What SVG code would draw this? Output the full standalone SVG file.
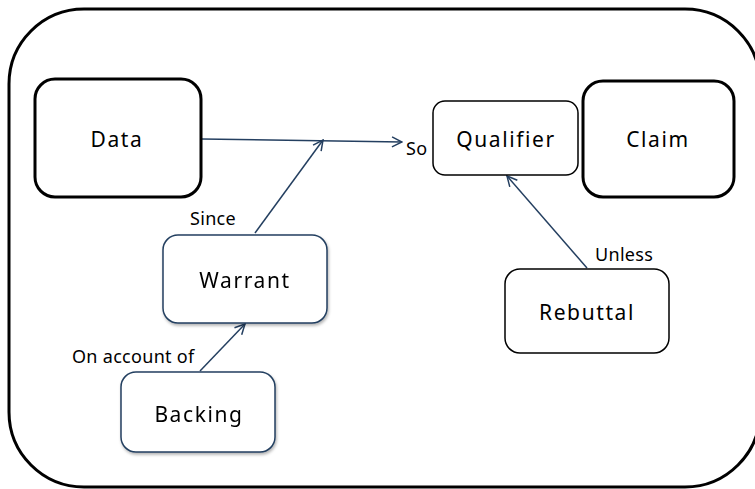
<svg xmlns="http://www.w3.org/2000/svg" width="755" height="489" viewBox="0 0 755 489">
<style>
.bold{fill:#fff;stroke:#000;stroke-width:3}
.thin{fill:#fff;stroke:#000;stroke-width:1.5}
.blue{fill:#fff;stroke:#243f60;stroke-width:1.5}
.t{font-family:"Noto Sans","Open Sans",sans-serif;font-size:21px;letter-spacing:1.6px;fill:#000;text-anchor:middle}
.l{font-family:"Noto Sans","Open Sans",sans-serif;font-size:18px;letter-spacing:0.3px;fill:#000}
.c{stroke:#243f60;stroke-width:1.5;fill:none;marker-end:url(#arr)}
</style>
<defs>
<marker id="arr" viewBox="0 0 12 12" refX="11" refY="6" markerWidth="12" markerHeight="12" markerUnits="userSpaceOnUse" orient="auto">
<path d="M1,1 L11,6 L1,11" fill="none" stroke="#243f60" stroke-width="1.5"/>
</marker>
<filter id="sh" x="-10%" y="-10%" width="130%" height="130%">
<feDropShadow dx="1" dy="2" stdDeviation="1.5" flood-color="#000" flood-opacity="0.3"/>
</filter>
</defs>
<rect x="9" y="9" width="751" height="478" rx="75" fill="none" stroke="#000" stroke-width="3"/>
<g id="connectors">
<line class="c" x1="202" y1="139" x2="402" y2="142"/>
<line class="c" x1="255" y1="233" x2="323" y2="140"/>
<line class="c" x1="200" y1="371" x2="245" y2="324"/>
<line class="c" x1="587" y1="268" x2="507" y2="176"/>
<text class="l" x="190" y="225">Since</text>
<text class="l" x="406" y="155">So</text>
<text class="l" x="72" y="363">On account of</text>
<text class="l" x="595" y="261">Unless</text>
</g>
<g id="data"><rect class="bold" x="35" y="79" width="166" height="118" rx="20"/><text class="t" x="117" y="147">Data</text></g>
<g id="qualifier"><rect class="thin" x="433" y="101" width="145" height="74" rx="12"/><text class="t" x="506" y="147">Qualifier</text></g>
<g id="claim"><rect class="bold" x="583" y="81" width="151" height="116" rx="20"/><text class="t" x="658" y="147">Claim</text></g>
<g id="warrant" filter="url(#sh)"><rect class="blue" x="163" y="235" width="164" height="88" rx="15"/><text class="t" x="245" y="288">Warrant</text></g>
<g id="backing" filter="url(#sh)"><rect class="blue" x="121" y="372" width="154" height="80" rx="15"/><text class="t" x="199" y="422">Backing</text></g>
<g id="rebuttal"><rect class="thin" x="505" y="269" width="164" height="84" rx="15"/><text class="t" x="587" y="320">Rebuttal</text></g>
</svg>
